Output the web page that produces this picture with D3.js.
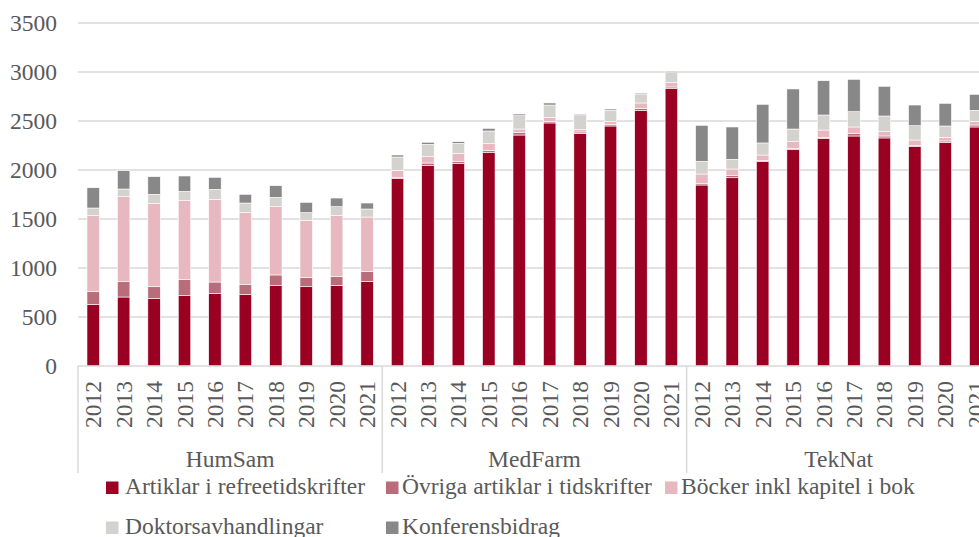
<!DOCTYPE html>
<html>
<head>
<meta charset="utf-8">
<script src="https://cdn.jsdelivr.net/npm/d3@7"></script>
<style>
  html, body { margin: 0; padding: 0; background: #fff; overflow: hidden; }
  svg { display: block; }
  text { font-family: "Liberation Serif", "Times New Roman", serif; fill: #595959; }
</style>
</head>
<body>
<svg id="chart" width="979" height="537"></svg>
<script>
// ---- Data ----
const groups = ["HumSam", "MedFarm", "TekNat"];
const years = ["2012","2013","2014","2015","2016","2017","2018","2019","2020","2021"];
const seriesNames = ["Artiklar i refreetidskrifter", "Övriga artiklar i tidskrifter", "Böcker inkl kapitel i bok", "Doktorsavhandlingar", "Konferensbidrag"];
// values per group, 10 years each (HumSam, MedFarm, TekNat)
const artiklar = [
  629, 704, 687, 718, 738, 728, 820, 809, 823, 861,
  1912, 2044, 2065, 2181, 2357, 2480, 2374, 2449, 2605, 2830,
  1847, 1921, 2085, 2207, 2320, 2347, 2327, 2238, 2279, 2439
];
const ovriga = [
  129, 156, 122, 163, 119, 102, 109, 92, 89, 102,
  14, 27, 20, 20, 24, 17, 14, 13, 21, 17,
  13, 21, 14, 14, 13, 24, 20, 14, 17, 20
];
const bocker = [
  776, 868, 851, 806, 844, 735, 697, 586, 625, 557,
  71, 65, 82, 68, 37, 37, 23, 31, 58, 44,
  99, 68, 54, 68, 75, 68, 44, 54, 37, 38
];
const doktors = [
  78, 78, 92, 95, 102, 98, 95, 78, 89, 82,
  136, 126, 105, 129, 136, 129, 143, 116, 92, 102,
  130, 99, 123, 129, 153, 156, 160, 146, 116, 112
];
const konferens = [
  207, 187, 180, 157, 122, 89, 119, 105, 88, 61,
  20, 21, 17, 27, 17, 21, 14, 13, 10, 14,
  367, 330, 394, 409, 350, 330, 303, 211, 231, 163
];
const yTicks = [0, 500, 1000, 1500, 2000, 2500, 3000, 3500];
const colors = ["#990022", "#b96d7b", "#e8b8c1", "#d4d2ce", "#878887"];

// ---- Build table ----
const rows = [];
groups.forEach((g, gi) => {
  years.forEach((y, yi) => {
    const i = gi * years.length + yi;
    rows.push({
      key: g + "-" + y, group: g, year: y,
      s0: artiklar[i], s1: ovriga[i], s2: bocker[i], s3: doktors[i], s4: konferens[i]
    });
  });
});
const keys = ["s0", "s1", "s2", "s3", "s4"];
const stacked = d3.stack().keys(keys)(rows);

// ---- Layout ----
const svg = d3.select("#chart");
const left = 78, step = 30.43;
const right = left + rows.length * step;
const yTop = 23, yBase = 366;
const gridColor = "#d9d9d9";

const x = d3.scaleBand().domain(rows.map(d => d.key))
  .range([left, right]).paddingInner(0.59).paddingOuter(0.295);
const y = d3.scaleLinear().domain([0, 3500]).range([yBase, yTop]);

// gridlines
svg.append("g").selectAll("line").data(yTicks.filter(t => t > 0)).join("line")
  .attr("x1", left).attr("x2", right)
  .attr("y1", d => y(d)).attr("y2", d => y(d))
  .attr("stroke", gridColor).attr("stroke-width", 1.5);

// y axis labels
const yAxis = d3.axisLeft(y).tickValues(yTicks).tickSize(0).tickPadding(0).tickFormat(d3.format("d"));
const gy = svg.append("g").attr("transform", `translate(${left - 21},0)`).call(yAxis);
gy.select(".domain").remove();
gy.selectAll("text").attr("font-size", 23.5).attr("fill", "#595959")
  .attr("font-family", '"Liberation Serif", "Times New Roman", serif')
  .attr("dy", "0.33em");

// bars
svg.append("g").selectAll("g").data(stacked).join("g")
  .attr("fill", (d, i) => colors[i])
  .selectAll("rect").data(d => d).join("rect")
  .attr("x", d => x(d.data.key))
  .attr("width", x.bandwidth())
  .attr("y", d => y(d[1]))
  .attr("height", d => y(d[0]) - y(d[1]))
  .attr("stroke", "#ffffff").attr("stroke-width", 0.6);

// baseline axis
svg.append("line").attr("x1", left).attr("x2", right)
  .attr("y1", yBase).attr("y2", yBase)
  .attr("stroke", gridColor).attr("stroke-width", 1.5);

// group separators
const sepX = [0, 10, 20, 30].map(i => left + i * step);
svg.append("g").selectAll("line").data(sepX).join("line")
  .attr("x1", d => d).attr("x2", d => d)
  .attr("y1", yBase).attr("y2", 473)
  .attr("stroke", gridColor).attr("stroke-width", 1.5);

// year labels (rotated)
const xAxis = d3.axisBottom(x).tickSize(0).tickPadding(0).tickFormat(k => k.split("-")[1]);
const gx = svg.append("g").attr("transform", `translate(0,${yBase})`).call(xAxis);
gx.select(".domain").remove();
gx.selectAll("text")
  .attr("font-size", 23.5).attr("fill", "#595959")
  .attr("font-family", '"Liberation Serif", "Times New Roman", serif')
  .attr("transform", "rotate(-90)")
  .attr("text-anchor", "end")
  .attr("x", -15).attr("y", 0).attr("dy", "0.34em");

// group labels
svg.append("g").selectAll("text").data(groups).join("text")
  .attr("x", (d, i) => (sepX[i] + sepX[i + 1]) / 2)
  .attr("y", 467)
  .attr("text-anchor", "middle")
  .attr("font-size", 23.5)
  .text(d => d);

// legend
const legCols = [106, 386, 665];
const legRows = [494, 534];
const leg = svg.append("g").selectAll("g").data(seriesNames).join("g")
  .attr("transform", (d, i) => `translate(${legCols[i % 3]},${legRows[Math.floor(i / 3)]})`);
leg.append("rect").attr("x", 0).attr("y", -12.5).attr("width", 12.5).attr("height", 12.5)
  .attr("fill", (d, i) => colors[i]);
leg.append("text").attr("x", (d, i) => i % 3 === 0 ? 19 : 16).attr("y", 0)
  .attr("font-size", 23.5)
  .text(d => d);
</script>
</body>
</html>
